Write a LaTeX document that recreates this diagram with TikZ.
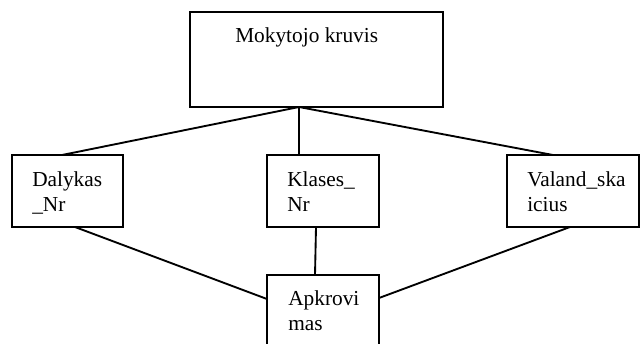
\documentclass[tikz,border=0pt]{standalone}
\usepackage{fontspec}
\setmainfont{Liberation Serif}
\usetikzlibrary{calc}
\begin{document}
\begin{tikzpicture}[x=0.75pt,y=-0.75pt,
  box/.style={draw, line width=1.4pt, rectangle, inner sep=0pt, outer sep=0pt, anchor=north west},
  word/.style={anchor=base west, inner sep=0pt, font=\fontsize{16}{18.75}\selectfont},
  link/.style={line width=1.4pt}]
\clip (0,0) rectangle (641,343);

% boxes
\node[box, minimum width=189.75pt, minimum height=71.25pt] (top) at (190,12) {};
\node[box, minimum width=83.25pt, minimum height=54pt] (dal) at (12,155) {};
\node[box, minimum width=84pt, minimum height=54pt] (kla) at (267,155) {};
\node[box, minimum width=99pt, minimum height=54pt] (val) at (507,155) {};
\node[box, minimum width=84pt, minimum height=54pt] (apk) at (267,275) {};

% texts
\node[word] (mk) at (235,42) {Mokytojo kruvis};
\node[word] (d1) at (32,186) {Dalykas};
\node[word] (d2) at (32,211) {\_Nr};
\node[word] (k1) at (287,186) {Klases\_};
\node[word] (k2) at (287,211) {Nr};
\node[word] (v1) at (527,186) {Valand\_ska};
\node[word] (v2) at (527,211) {icius};
\node[word] (a1) at (288,305) {Apkrovi};
\node[word] (a2) at (288,330) {mas};

% connectors
\coordinate (hub) at ($(top.south west)+(109,0)$);
\draw[link] (hub) -- ($(dal.north west)+(50,0)$);
\draw[link] (hub) -- ($(kla.north west)+(32,0)$);
\draw[link] (hub) -- ($(val.north west)+(46,0)$);
\draw[link] ($(dal.south west)+(63,0)$) -- ($(apk.north west)+(0,24)$);
\draw[link] ($(kla.south west)+(49,0)$) -- ($(apk.north west)+(48,0)$);
\draw[link] ($(val.south west)+(63,0)$) -- ($(apk.north east)+(0,23)$);
\end{tikzpicture}
\end{document}
